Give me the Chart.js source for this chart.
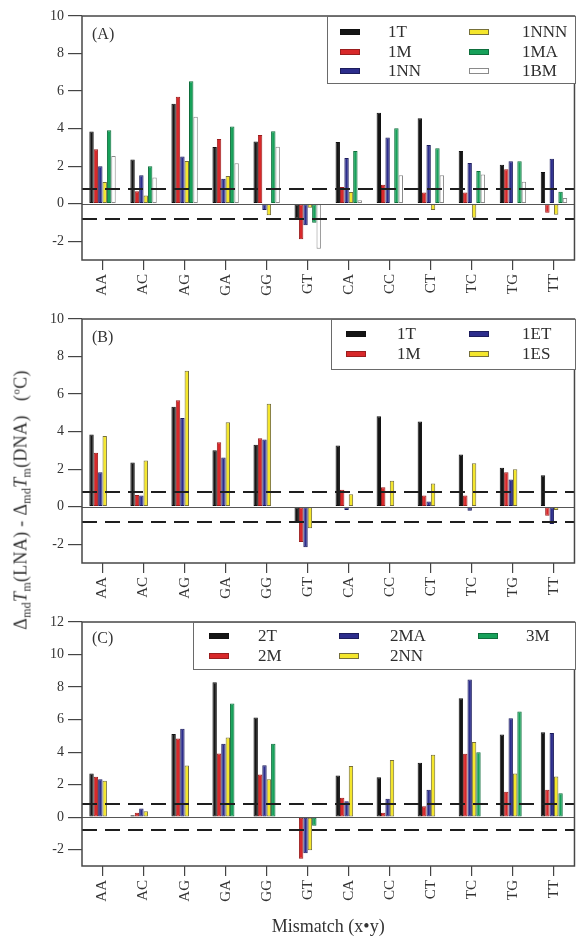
<!DOCTYPE html>
<html><head><meta charset="utf-8">
<script src="https://cdn.jsdelivr.net/npm/chart.js@4/dist/chart.umd.min.js"></script>
<style>
html,body{margin:0;padding:0;background:#fff;}
body{width:576px;height:938px;position:relative;overflow:hidden;font-family:"Liberation Serif",serif;}
canvas{position:absolute;left:0;}
#ytitle{position:absolute;left:22px;top:500px;transform:translate(-50%,-50%) rotate(-90deg);white-space:nowrap;font-size:18px;color:#333;letter-spacing:0.3px;}
#ytitle sub{font-size:12px;vertical-align:-4px;}
#ytitle sup{font-size:11px;vertical-align:7px;}
</style></head><body>
<canvas id="cA" width="576" height="300" style="top:0px"></canvas>
<canvas id="cB" width="576" height="300" style="top:303px"></canvas>
<canvas id="cC" width="576" height="332" style="top:606px"></canvas>
<div id="ytitle">&Delta;<sub>md</sub><i>T</i><sub>m</sub>(LNA) - &Delta;<sub>md</sub><i>T</i><sub>m</sub>(DNA)&nbsp;&nbsp;&nbsp;(<sup>o</sup>C)</div>
<script>
// ---------- data ----------
const categories = ['AA','AC','AG','GA','GG','GT','CA','CC','CT','TC','TG','TT'];
const ticksAB = [-2,0,2,4,6,8,10];
const ticksC = [-2,0,2,4,6,8,10,12];
const thresholds = [0.8, -0.8];

// Panel A
const a_1T   = [3.84, 2.36, 5.33, 3.02, 3.32, -0.80, 3.29, 4.84, 4.55, 2.81, 2.08, 1.69];
const a_1M   = [2.90, 0.66, 5.70, 3.45, 3.66, -1.90, 0.89, 1.01, 0.59, 0.59, 1.83, -0.48];
const a_1NN  = [2.00, 1.51, 2.51, 1.33, -0.34, -1.15, 2.44, 3.52, 3.13, 2.17, 2.26, 2.40];
const a_1NNN = [1.16, 0.44, 2.28, 1.48, -0.62, -0.22, 0.62, -0.03, -0.34, -0.75, -0.05, -0.59];
const a_1MA  = [3.91, 1.99, 6.52, 4.11, 3.86, -1.01, 2.81, 4.02, 2.95, 1.74, 2.26, 0.64];
const a_1BM  = [2.54, 1.39, 4.63, 2.15, 3.04, -2.40, 0.18, 1.51, 1.51, 1.56, 1.17, 0.30];

// Panel B
const b_1T  = [3.85, 2.36, 5.32, 3.01, 3.30, -0.83, 3.26, 4.82, 4.54, 2.78, 2.07, 1.67];
const b_1M  = [2.87, 0.62, 5.67, 3.44, 3.65, -1.88, 0.90, 1.03, 0.59, 0.59, 1.83, -0.48];
const b_1ET = [1.83, 0.59, 4.72, 2.62, 3.58, -2.16, -0.18, 0.02, 0.27, -0.21, 1.45, -0.92];
const b_1ES = [3.76, 2.46, 7.24, 4.50, 5.48, -1.15, 0.66, 1.38, 1.24, 2.32, 1.99, -0.18];

// Panel C
const c_2T  = [2.69, 0.12, 5.11, 8.29, 6.13, null, 2.56, 2.46, 3.34, 7.32, 5.09, 5.23];
const c_2M  = [2.48, 0.27, 4.84, 3.92, 2.63, -2.56, 1.19, 0.27, 0.68, 3.90, 1.56, 1.68];
const c_2MA = [2.34, 0.53, 5.44, 4.51, 3.20, -2.22, 0.98, 1.13, 1.68, 8.47, 6.09, 5.17];
const c_2NN = [2.24, 0.37, 3.18, 4.90, 2.34, -2.03, 3.14, 3.51, 3.84, 4.62, 2.69, 2.50];
const c_3M  = [null, null, null, 6.99, 4.51, -0.53, null, null, null, 4.00, 6.50, 1.48];

// ---------- styles ----------
const FILL = {black:'#151515', red:'#d8282a', blue:'#2c2d8c', yellow:'#f4e62c', green:'#17a15a', white:'#ffffff'};
const EDGE = {black:'#111111', red:'#9a1e1e', blue:'#1c1c5c', yellow:'#77703a', green:'#0f6e3c', white:'#8a8a8a'};
const FONT = '"Liberation Serif", "Times New Roman", serif';
Chart.defaults.font.family = FONT;
Chart.defaults.color = '#2e2e2e';

function ds(label, data, c){
  return {label, data, backgroundColor:FILL[c], borderColor:EDGE[c], borderWidth:1, borderSkipped:false};
}
function spacer(){ return {label:'', data:[], backgroundColor:'rgba(0,0,0,0)', borderWidth:0}; }

const decor = {
  id:'decor',
  afterDatasetsDraw(chart, args, o){
    const ctx = chart.ctx, a = chart.chartArea, y = chart.scales.y;
    ctx.save();
    ctx.strokeStyle = '#555'; ctx.lineWidth = 1;
    const y0 = Math.round(y.getPixelForValue(0)) + 0.5;
    ctx.beginPath(); ctx.moveTo(a.left, y0); ctx.lineTo(a.right, y0); ctx.stroke();
    ctx.setLineDash([15, 8]); ctx.lineWidth = 2; ctx.strokeStyle = '#1e1e1e';
    for (const t of o.lines){
      const py = Math.round(y.getPixelForValue(t));
      ctx.beginPath(); ctx.moveTo(a.left, py); ctx.lineTo(a.right, py); ctx.stroke();
    }
    ctx.setLineDash([]);
    ctx.strokeStyle = '#474747'; ctx.lineWidth = 1.5;
    ctx.strokeRect(a.left, a.top, a.right - a.left, a.bottom - a.top);
    ctx.fillStyle = '#333'; ctx.font = '16px ' + FONT; ctx.textBaseline = 'middle'; ctx.textAlign = 'left';
    ctx.fillText(o.panel, o.panelX, o.panelY);
    const L = o.legend;
    ctx.fillStyle = '#fff';
    ctx.fillRect(L.box[0], L.box[1], L.box[2]-L.box[0], L.box[3]-L.box[1]);
    ctx.strokeStyle = '#6a6a6a'; ctx.lineWidth = 1;
    ctx.strokeRect(L.box[0]+0.5, L.box[1]+0.5, L.box[2]-L.box[0], L.box[3]-L.box[1]);
    ctx.font = '17px ' + FONT;
    const items = chart.data.datasets.filter(d => d.label);
    let k = 0;
    for (const col of L.cols){
      for (const ry of L.rows){
        if (k >= items.length) break;
        const d = items[k++];
        ctx.fillStyle = d.backgroundColor;
        ctx.fillRect(col[0], ry - 3, 20, 6);
        ctx.strokeStyle = d.borderColor; ctx.lineWidth = 1;
        ctx.strokeRect(col[0] + 0.5, ry - 3 + 0.5, 19, 5);
        ctx.fillStyle = '#2e2e2e';
        ctx.fillText(d.label, col[1], ry + 1);
      }
    }
    ctx.restore();
  }
};

function makeChart(id, datasets, ymax, tickList, xHeight, decorOpts, showTitle){
  return new Chart(document.getElementById(id), {
    type:'bar',
    data:{labels:categories, datasets},
    options:{
      responsive:false, animation:false,
      datasets:{bar:{categoryPercentage:0.643, barPercentage:1.0}},
      layout:{padding:{top:16, right:1, left:0, bottom:0}},
      plugins:{legend:{display:false}, tooltip:{enabled:false}, decor:decorOpts},
      scales:{
        x:{
          offset:true,
          grid:{display:true, offset:false, drawOnChartArea:false, drawTicks:true, tickLength:10, tickColor:'#444', lineWidth:1.2},
          border:{display:false},
          ticks:{autoSkip:false, maxRotation:90, minRotation:90, padding:4, font:{size:15}, color:'#333'},
          title:{display:showTitle, text:'Mismatch (x\u2022y)', font:{size:18}, color:'#333', padding:{top:0,bottom:0}},
          afterFit(s){ s.height = xHeight; }
        },
        y:{
          min:-3, max:ymax,
          grid:{display:true, drawOnChartArea:false, drawTicks:true, tickLength:14, tickColor:'#444', lineWidth:1.2},
          border:{display:false},
          ticks:{padding:4, font:{size:14}, color:'#333'},
          afterBuildTicks(s){ s.ticks = tickList.map(v => ({value:v})); },
          afterFit(s){ s.width = 82; }
        }
      }
    },
    plugins:[decor]
  });
}

makeChart('cA', [
  ds('1T', a_1T, 'black'), ds('1M', a_1M, 'red'), ds('1NN', a_1NN, 'blue'),
  ds('1NNN', a_1NNN, 'yellow'), ds('1MA', a_1MA, 'green'), ds('1BM', a_1BM, 'white')
], 10, ticksAB, 40, {
  lines:thresholds, panel:'(A)', panelX:92, panelY:35,
  legend:{box:[327,16,575,83], cols:[[340,388],[469,522]], rows:[32,52,71]}
}, false);

makeChart('cB', [
  ds('1T', b_1T, 'black'), ds('1M', b_1M, 'red'), ds('1ET', b_1ET, 'blue'), ds('1ES', b_1ES, 'yellow'),
  spacer(), spacer()
], 10, ticksAB, 40, {
  lines:thresholds, panel:'(B)', panelX:92, panelY:35,
  legend:{box:[331,16,575,66], cols:[[346,397],[469,522]], rows:[31,51]}
}, false);

makeChart('cC', [
  ds('2T', c_2T, 'black'), ds('2M', c_2M, 'red'), ds('2MA', c_2MA, 'blue'), ds('2NN', c_2NN, 'yellow'),
  ds('3M', c_3M, 'green'), spacer()
], 12, ticksC, 72, {
  lines:thresholds, panel:'(C)', panelX:92, panelY:33,
  legend:{box:[193,16,575,63], cols:[[209,258],[339,390],[478,526]], rows:[30,50]}
}, true);
</script>
</body></html>
